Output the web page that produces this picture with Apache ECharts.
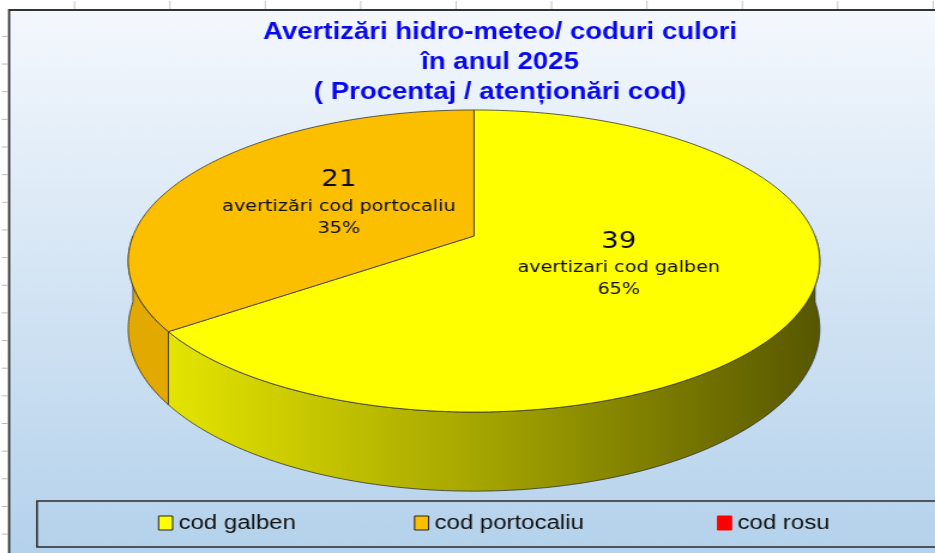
<!DOCTYPE html>
<html><head><meta charset="utf-8">
<script src="https://cdn.jsdelivr.net/npm/echarts@6/dist/echarts.min.js"></script>
<style>
html,body{margin:0;padding:0;overflow:hidden;background:#ffffff;}
#c{width:780px;height:553px;transform:scaleX(1.198718);transform-origin:0 0;}
</style>
</head><body><div id="c"></div>
<script>
// ---- data ----
const categories = ['cod galben', 'cod portocaliu', 'cod rosu'];
const values = [39, 21, 0];
const labelNames = ['avertizari cod galben', 'avertizări cod portocaliu', 'avertizări cod rosu'];
const titleLines = ['Avertizări hidro-meteo/ coduri culori', 'în anul 2025', '( Procentaj / atenționări cod)'];

// ---- styles ----
const topColors = ['#FFFF00', '#FBBF00', '#FF0000'];
const wallStops = [
  [[0, '#E4E400'], [0.5, '#A2A200'], [1, '#575700']],
  [[0, '#E2A900'], [1, '#D29E00']],
  [[0, '#C00000'], [1, '#900000']]
];

const SX = 780 / 935;            // page is stretched horizontally by 935/780
const CX = 474 * SX, CY = 236;   // pie centre
const RA = 341 * SX, RB = 146.9; // ellipse radii
const PERSP = 0.1656, DEPTH = 66;

function proj(deg, f) {
  const t = deg * Math.PI / 180;
  const c = Math.cos(t), s = Math.sin(t);
  const k = 1 / (1 + PERSP * s * f);
  return [CX + RA * f * c * k, CY - RB * f * s * k, k];
}

const total = values.reduce((a, b) => a + b, 0);

function renderItem(params, api) {
  const i = params.seriesIndex;
  const v = api.value(0);
  if (!v) return { type: 'group', children: [] };
  let before = 0;
  for (let j = 0; j < i; j++) before += values[j];
  const th0 = 90 - 360 * before / total;
  const th1 = th0 - 360 * v / total;
  const children = [];
  // walls (near side only)
  [-360, 0, 360].forEach(off => {
    const lo = Math.max(th1, -180 + off), hi = Math.min(th0, off);
    if (hi - lo > 0.01) {
      const n = Math.max(8, Math.ceil(hi - lo));
      const topPts = [], botPts = [];
      for (let j = 0; j <= n; j++) {
        const th = hi - (hi - lo) * j / n;
        const p = proj(th, 1);
        topPts.push([p[0], p[1]]);
        botPts.push([p[0], p[1] + DEPTH * p[2]]);
      }
      const pts = topPts.concat(botPts.reverse());
      children.push({
        type: 'polygon',
        shape: { points: pts },
        style: {
          fill: new echarts.graphic.LinearGradient(168 * SX, 0, 819 * SX, 0,
            wallStops[i].map(s => ({ offset: s[0], color: s[1] })), true),
          stroke: '#333333', lineWidth: 0.8
        }
      });
    }
  });
  // top face
  const n = Math.ceil(Math.abs(th0 - th1));
  const pts = [[CX, CY]];
  for (let j = 0; j <= n; j++) {
    const p = proj(th0 + (th1 - th0) * j / n, 1);
    pts.push([p[0], p[1]]);
  }
  children.push({
    type: 'polygon',
    shape: { points: pts },
    style: { fill: topColors[i], stroke: '#333333', lineWidth: 0.8 }
  });
  // label
  const mid = (th0 + th1) / 2;
  const lp = proj(mid, 0.46);
  const pct = Math.round(v / total * 100);
  children.push({
    type: 'text',
    x: lp[0], y: lp[1] - 4,
    style: {
      text: '{v|' + v + '}\n{n|' + labelNames[i] + '}\n{p|' + pct + '%}',
      align: 'center', verticalAlign: 'middle',
      rich: {
        v: { fontSize: 23, lineHeight: 30, fontFamily: 'DejaVu Sans', fill: '#0d0d0d', align: 'center' },
        n: { fontSize: 16, lineHeight: 22, fontFamily: 'DejaVu Sans', fill: '#0d0d0d', align: 'center' },
        p: { fontSize: 16, lineHeight: 22, fontFamily: 'DejaVu Sans', fill: '#0d0d0d', align: 'center' }
      }
    }
  });
  return { type: 'group', children };
}

// decorative spreadsheet gridline ticks
const graphics = [];
graphics.push({
  type: 'rect', z: -10,
  shape: { x: 7.6, y: 10, width: 800, height: 580 },
  style: {
    fill: new echarts.graphic.LinearGradient(0, 0, 0, 1, [
      { offset: 0, color: '#F4F8FD' }, { offset: 0.95, color: '#B3D1EB' }, { offset: 1, color: '#B3D1EB' }
    ]),
    stroke: '#333333', lineWidth: 1.8
  }
});
for (let y = 36.4; y < 553; y += 27.65) {
  graphics.push({ type: 'line', z: -10, shape: { x1: 1.5, y1: y, x2: 6.6, y2: y }, style: { stroke: '#b8b8b8', lineWidth: 1 } });
}
for (let x = 74.5; x < 935; x += 95.4) {
  graphics.push({ type: 'line', z: -10, shape: { x1: x * SX, y1: 1, x2: x * SX, y2: 9 }, style: { stroke: '#c4c4c4', lineWidth: 1 } });
}
graphics.push({
  type: 'rect', z: 5,
  shape: { x: 37 * SX, y: 501, width: 800, height: 46 },
  style: { fill: 'none', stroke: '#2a2a2a', lineWidth: 1.5 }
});

const legendLeft = [158 * SX, 414 * SX, 717 * SX];

const chart = echarts.init(document.getElementById('c'), null, { width: 780, height: 553 });
chart.setOption({
  animation: false,
  title: {
    text: titleLines.join('\n'),
    left: 500 * SX, top: 18, textAlign: 'center', padding: 0,
    textStyle: { fontFamily: 'Liberation Sans', fontWeight: 'bold', fontSize: 23, lineHeight: 30, color: '#0808F0' }
  },
  legend: categories.map((name, i) => ({
    data: [name], left: legendLeft[i], top: 513, padding: 0,
    itemWidth: 14 * SX, itemHeight: 14, itemGap: 0, selectedMode: false,
    icon: 'rect',
    itemStyle: { borderColor: i < 2 ? '#222222' : '#FF0000', borderWidth: 1 },
    textStyle: { fontFamily: 'Liberation Sans', fontSize: 20, color: '#111111', lineHeight: 20 }
  })),
  graphic: graphics,
  series: categories.map((name, i) => ({
    type: 'custom', name, coordinateSystem: 'none', silent: true,
    itemStyle: { color: topColors[i] },
    data: [[values[i]]],
    renderItem
  }))
});
</script>
</body></html>
